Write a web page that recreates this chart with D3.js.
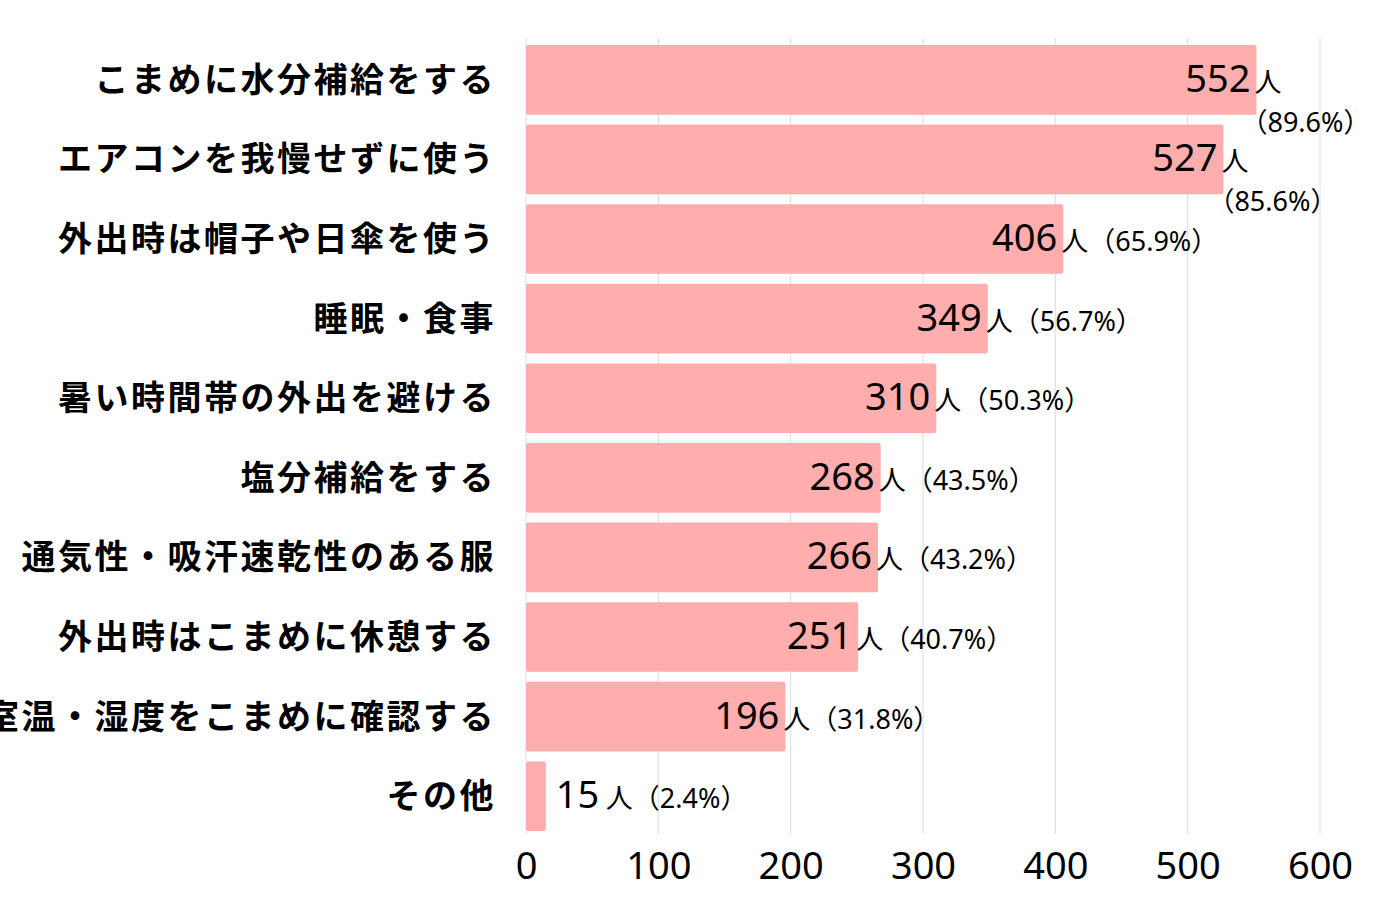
<!DOCTYPE html><html><head><meta charset="utf-8">
<script src="https://cdn.jsdelivr.net/npm/d3@7"></script>
<style>body{margin:0;background:#fff}svg{font-family:"Noto Sans","Noto Sans CJK JP",sans-serif}</style></head><body>
<svg id="c" width="1380" height="920"></svg>
<script>
const categories=["こまめに水分補給をする","エアコンを我慢せずに使う","外出時は帽子や日傘を使う","睡眠・食事","暑い時間帯の外出を避ける","塩分補給をする","通気性・吸汗速乾性のある服","外出時はこまめに休憩する","室温・湿度をこまめに確認する","その他"];
const values=[552,527,406,349,310,268,266,251,196,15];
const percents=["89.6%","85.6%","65.9%","56.7%","50.3%","43.5%","43.2%","40.7%","31.8%","2.4%"];
const ticks=[0,100,200,300,400,500,600];
const svg=d3.select("#c");
const x=d3.scaleLinear().domain([0,600]).range([526,1320]);
const y=d3.scaleBand().domain(categories).range([40,836]).paddingInner(0.125).paddingOuter(0.0625);
svg.append("g").selectAll("line").data(ticks).join("line").attr("x1",d=>x(d)).attr("x2",d=>x(d)).attr("y1",38).attr("y2",834).attr("stroke","#ddd").attr("stroke-width",1);
svg.append("g").selectAll("rect").data(values).join("rect").attr("x",x(0)).attr("y",(d,i)=>y(categories[i])).attr("width",d=>x(d)-x(0)).attr("height",y.bandwidth()).attr("fill","#ffadad").attr("rx",2);
const ax=svg.append("g").attr("transform","translate(0,834)").call(d3.axisBottom(x).tickValues(ticks).tickSize(0).tickPadding(18));
ax.select(".domain").remove();
ax.selectAll("text").attr("font-size",38).attr("fill","#000").attr("font-family","Noto Sans");
svg.append("g").selectAll("text").data(categories).join("text").attr("x",496).attr("y",d=>y(d)+y.bandwidth()/2+12).attr("text-anchor","end").attr("font-size",34).attr("letter-spacing",2.5).attr("font-weight","bold").attr("font-family","Noto Sans CJK JP").text(d=>d);
values.forEach((v,i)=>{
  const cy=y(categories[i])+y.bandwidth()/2+12;
  const e=x(v);
  const small=v<50;
  const g=svg.append("g");
  if(small){
    g.append("text").attr("x",e+10).attr("y",cy).attr("font-size",38).text(v);
    g.append("text").attr("x",e+60).attr("y",cy).attr("font-size",27).text("人（"+percents[i]+"）");
  } else {
    g.append("text").attr("x",e-6).attr("y",cy).attr("text-anchor","end").attr("font-size",38).text(v);
    if(i<2){
      g.append("text").attr("x",e-2).attr("y",cy).attr("font-size",27).text("人");
      g.append("text").attr("x",e-16).attr("y",cy+40).attr("font-size",27).text("（"+percents[i]+"）");
    } else {
      g.append("text").attr("x",e-2).attr("y",cy).attr("font-size",27).text("人（"+percents[i]+"）");
    }
  }
});
</script></body></html>
